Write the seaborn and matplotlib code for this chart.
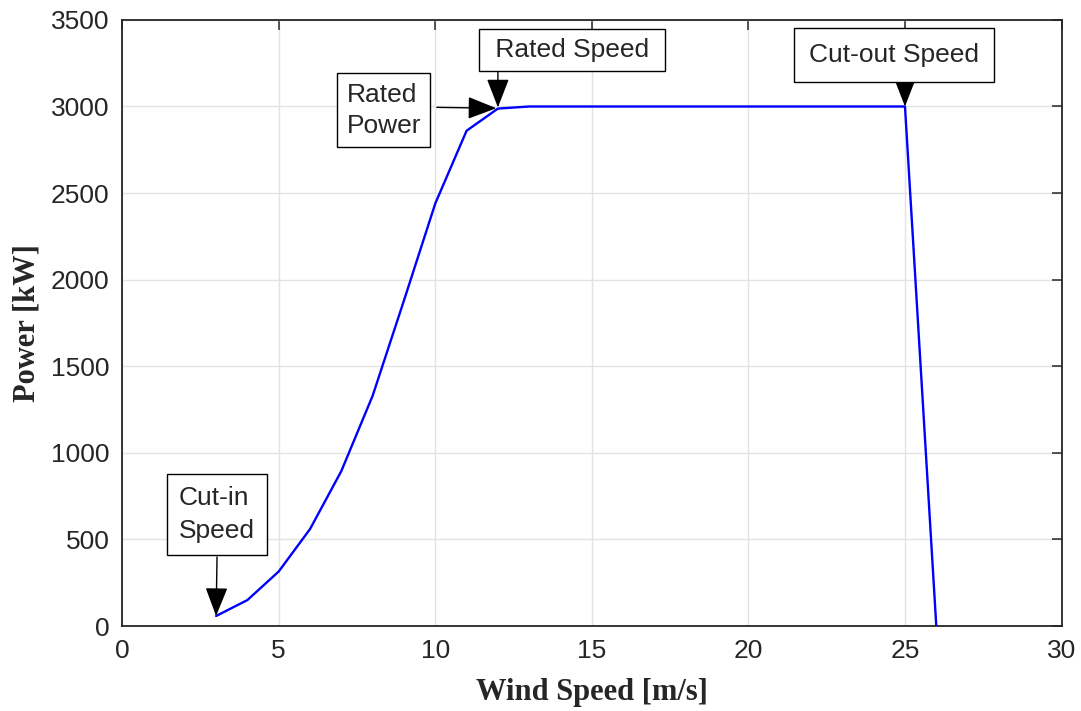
import matplotlib
matplotlib.use("Agg")
import matplotlib.pyplot as plt
import seaborn as sns
import numpy as np

wind_speed = [3, 4, 5, 6, 7, 8, 9, 10, 11, 12, 13, 14, 15, 16, 17, 18, 19, 20, 21, 22, 23, 24, 25, 26]
power_kw = [58, 150, 315, 560, 895, 1330, 1880, 2440, 2860, 2988, 3000, 3000, 3000, 3000, 3000, 3000,
            3000, 3000, 3000, 3000, 3000, 3000, 3000, 0]
x_ticks = [0, 5, 10, 15, 20, 25, 30]
y_ticks = [0, 500, 1000, 1500, 2000, 2500, 3000, 3500]

sns.set_style("white")
plt.rcParams['font.family'] = ['Liberation Sans', 'DejaVu Sans']

fig = plt.figure(figsize=(10.81, 7.11), dpi=100)
ax = fig.add_axes([0.113, 0.1195, 0.869, 0.8525])

sns.lineplot(x=wind_speed, y=power_kw, color=(0, 0, 1), linewidth=1.7, ax=ax, zorder=3)

ax.set_xlim(0, 30)
ax.set_ylim(0, 3500)
ax.set_xticks(x_ticks)
ax.set_yticks(y_ticks)
ax.grid(True, color='#e3e3e3', linewidth=1.0, zorder=0)
ax.set_axisbelow(True)
for s in ax.spines.values():
    s.set_visible(True)
    s.set_color('#262626')
    s.set_linewidth(1.3)
ax.tick_params(axis='both', which='both', direction='in', length=7, width=1.1,
               top=True, right=True, color='#262626', labelcolor='#262626',
               labelsize=19, pad=9)

serif = {'family': ['Liberation Serif', 'DejaVu Serif'], 'weight': 'bold', 'size': 22}
ax.set_xlabel('Wind Speed [m/s]', fontdict=serif, labelpad=11, color='#262626')
ax.set_ylabel('Power [kW]', fontdict=serif, labelpad=7, color='#262626')

fs = 19

def boxstyle(pad):
    return dict(boxstyle='square,pad=%s' % pad, facecolor='white', edgecolor='black', linewidth=1.0)

def arrow(xy, xytext):
    ax.annotate('', xy=xy, xytext=xytext, zorder=5,
                arrowprops=dict(arrowstyle='-|>,head_length=0.9,head_width=0.35',
                                mutation_scale=20, color='black', lw=1.0,
                                shrinkA=0, shrinkB=0))

# Cut-in Speed
ax.text(3.02, 644, 'Cut-in\nSpeed', fontsize=fs, ha='center', va='center',
        multialignment='left', bbox=boxstyle(0.45), zorder=6, linespacing=1.5)
arrow((3, 58), (3.03, 399))

# Rated Power
ax.text(8.36, 2978, 'Rated\nPower', fontsize=fs, ha='center', va='center',
        multialignment='left', bbox=boxstyle(0.35), zorder=6, linespacing=1.4)
arrow((11.95, 2990), (10.05, 2995))

# Rated Speed
ax.text(14.36, 3325, ' Rated Speed ', fontsize=fs, ha='center', va='center',
        bbox=boxstyle(0.34), zorder=6)
arrow((12.0, 2995), (12.0, 3295))

# Cut-out Speed
ax.text(24.66, 3299, 'Cut-out Speed', fontsize=fs, ha='center', va='center',
        bbox=boxstyle(0.57), zorder=6)
arrow((25.0, 3000), (25.0, 3137))

fig.savefig('out.png', dpi=100)
